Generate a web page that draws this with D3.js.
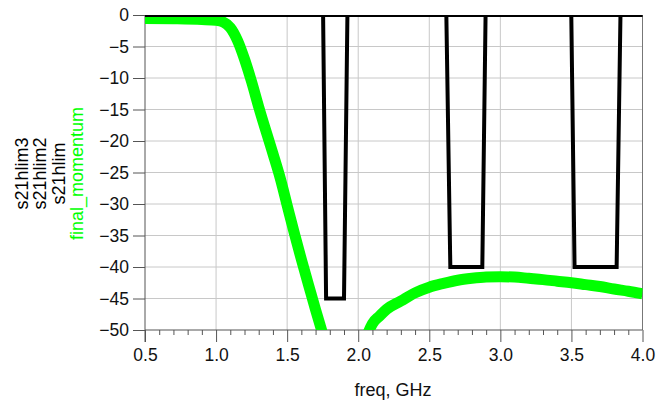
<!DOCTYPE html>
<html>
<head>
<meta charset="utf-8">
<script src="https://cdn.jsdelivr.net/npm/d3@7"></script>
<style>
  body { margin: 0; background: #fff; }
  text { font-family: "Liberation Sans", Arial, sans-serif; }
</style>
</head>
<body>
<div class="chart"></div>
<script>
// chart data
const freqTicks = [0.5, 1.0, 1.5, 2.0, 2.5, 3.0, 3.5, 4.0];
const dbTicks = [0, -5, -10, -15, -20, -25, -30, -35, -40, -45, -50];

// final_momentum trace (freq in GHz, dB), values past -50 get clipped
const momentumFreq = [0.5, 0.7, 0.9, 1.0, 1.05, 1.1, 1.15, 1.2, 1.25, 1.3, 1.4, 1.45, 1.5, 1.55, 1.6, 1.65, 1.7, 1.75, 1.8, 1.9,
                      2.0, 2.05, 2.1, 2.15, 2.2, 2.3, 2.4, 2.5, 2.6, 2.7, 2.8, 2.9, 3.0, 3.1, 3.2, 3.3, 3.4, 3.5, 3.6, 3.7, 3.8, 3.9, 4.0];
const momentumDb = [-0.55, -0.6, -0.72, -0.85, -1.1, -2.0, -4.0, -7.0, -10.6, -14.6, -22.0, -25.8, -30.2, -34.6, -38.8, -42.8, -46.8, -50.6, -54.5, -60,
                    -57, -51.8, -49.0, -47.8, -46.7, -45.4, -44.1, -43.2, -42.6, -42.1, -41.8, -41.6, -41.55, -41.6, -41.8, -42.0, -42.25, -42.5, -42.8, -43.1, -43.5, -43.85, -44.25];

// limit masks
const s21hlimFreq = [0.5, 1.753, 1.774, 1.900, 1.924, 4.0];
const s21hlimDb = [0, 0, -45, -45, 0, 0];
const s21hlim2Freq = [0.5, 2.62, 2.648, 2.873, 2.896, 4.0];
const s21hlim2Db = [0, 0, -40, -40, 0, 0];
const s21hlim3Freq = [0.5, 3.499, 3.522, 3.818, 3.845, 4.0];
const s21hlim3Db = [0, 0, -40, -40, 0, 0];

const legendNames = ["s21hlim3", "s21hlim2", "s21hlim", "final_momentum"];
const legendColors = ["#000", "#000", "#000", "#00ff00"];

// set the dimensions and margins of the graph
const margin = {top: 15, right: 19.5, bottom: 73, left: 145},
    width = 662 - margin.left - margin.right,
    height = 403 - margin.top - margin.bottom;

const svg = d3.select(".chart")
  .append("svg")
    .attr("width", 662)
    .attr("height", 403)
  .append("g")
    .attr("transform", `translate(${margin.left},${margin.top})`);

const x = d3.scaleLinear().domain([0.5, 4.0]).range([0, width]);
const y = d3.scaleLinear().domain([-50, 0]).range([height, 0]);

// grid
svg.append("g")
  .selectAll("line")
  .data(freqTicks.slice(1, -1))
  .join("line")
    .attr("x1", d => x(d)).attr("x2", d => x(d))
    .attr("y1", 0).attr("y2", height)
    .attr("stroke", "#c8c8c8");
svg.append("g")
  .selectAll("line")
  .data(dbTicks.slice(1, -1))
  .join("line")
    .attr("x1", 0).attr("x2", width)
    .attr("y1", d => y(d)).attr("y2", d => y(d))
    .attr("stroke", "#c8c8c8");
// right edge
svg.append("line")
  .attr("x1", x(4.0)).attr("x2", x(4.0))
  .attr("y1", 0).attr("y2", height)
  .attr("stroke", "#777");

// minor x ticks
const minor = d3.range(5, 41).map(d => d / 10).filter(d => Math.abs(d * 2 - Math.round(d * 2)) > 1e-6);
svg.append("g")
  .attr("transform", `translate(0, ${height})`)
  .call(d3.axisBottom(x).tickValues(minor).tickSize(5).tickFormat(""))
  .call(g => g.select(".domain").remove())
  .call(g => g.selectAll("line").attr("stroke", "#555"));

// x axis
svg.append("g")
  .attr("transform", `translate(0, ${height})`)
  .call(d3.axisBottom(x).tickValues(freqTicks).tickSize(12).tickPadding(7).tickFormat(d3.format(".1f")))
  .call(g => g.select(".domain").remove())
  .call(g => g.selectAll("line").attr("stroke", "#555"))
  .call(g => g.selectAll("text").attr("font-size", "17.5px").attr("fill", "#111")
    .attr("font-family", "Liberation Sans, Arial, sans-serif"));

// y axis
svg.append("g")
  .call(d3.axisLeft(y).tickValues(dbTicks).tickSize(12).tickPadding(4))
  .call(g => g.select(".domain").remove())
  .call(g => g.selectAll("line").attr("stroke", "#555"))
  .call(g => g.selectAll("text").attr("font-size", "17.5px").attr("fill", "#111")
    .attr("font-family", "Liberation Sans, Arial, sans-serif"));

// axis lines
svg.append("line")
  .attr("x1", 0).attr("x2", 0).attr("y1", 0).attr("y2", height + 12)
  .attr("stroke", "#555");
svg.append("line")
  .attr("x1", 0).attr("x2", width).attr("y1", height).attr("y2", height)
  .attr("stroke", "#555");

// clip to the plot area
svg.append("clipPath").attr("id", "plot-clip")
  .append("rect").attr("x", 0).attr("y", 0).attr("width", width).attr("height", height);

const plot = svg.append("g").attr("clip-path", "url(#plot-clip)");

const line = d3.line()
  .x(d => x(d[0]))
  .y(d => y(d[1]));

plot.append("path")
  .datum(d3.zip(momentumFreq, momentumDb))
  .attr("fill", "none")
  .attr("stroke", "#00ff00")
  .attr("stroke-width", 11)
  .attr("d", line.curve(d3.curveMonotoneX));

const masks = [
  d3.zip(s21hlimFreq, s21hlimDb),
  d3.zip(s21hlim2Freq, s21hlim2Db),
  d3.zip(s21hlim3Freq, s21hlim3Db)
];
plot.selectAll(".mask")
  .data(masks)
  .join("path")
    .attr("class", "mask")
    .attr("fill", "none")
    .attr("stroke", "#000")
    .attr("stroke-width", 4)
    .attr("stroke-linejoin", "miter")
    .attr("d", d3.line().x(d => x(d[0])).y(d => y(d[1])));

// x label
svg.append("text")
  .attr("x", 393 - margin.left)
  .attr("y", 396 - margin.top)
  .attr("text-anchor", "middle")
  .attr("font-size", "18px")
  .attr("fill", "#111")
  .text("freq, GHz");

// rotated legend on the left
svg.append("g")
  .selectAll("text")
  .data(legendNames)
  .join("text")
    .attr("transform", (d, i) => `translate(${28 + i * 18.3 - margin.left}, ${height / 2 + 1}) rotate(-90)`)
    .attr("text-anchor", "middle")
    .attr("font-size", "18px")
    .attr("fill", (d, i) => legendColors[i])
    .text(d => d);
</script>
</body>
</html>
